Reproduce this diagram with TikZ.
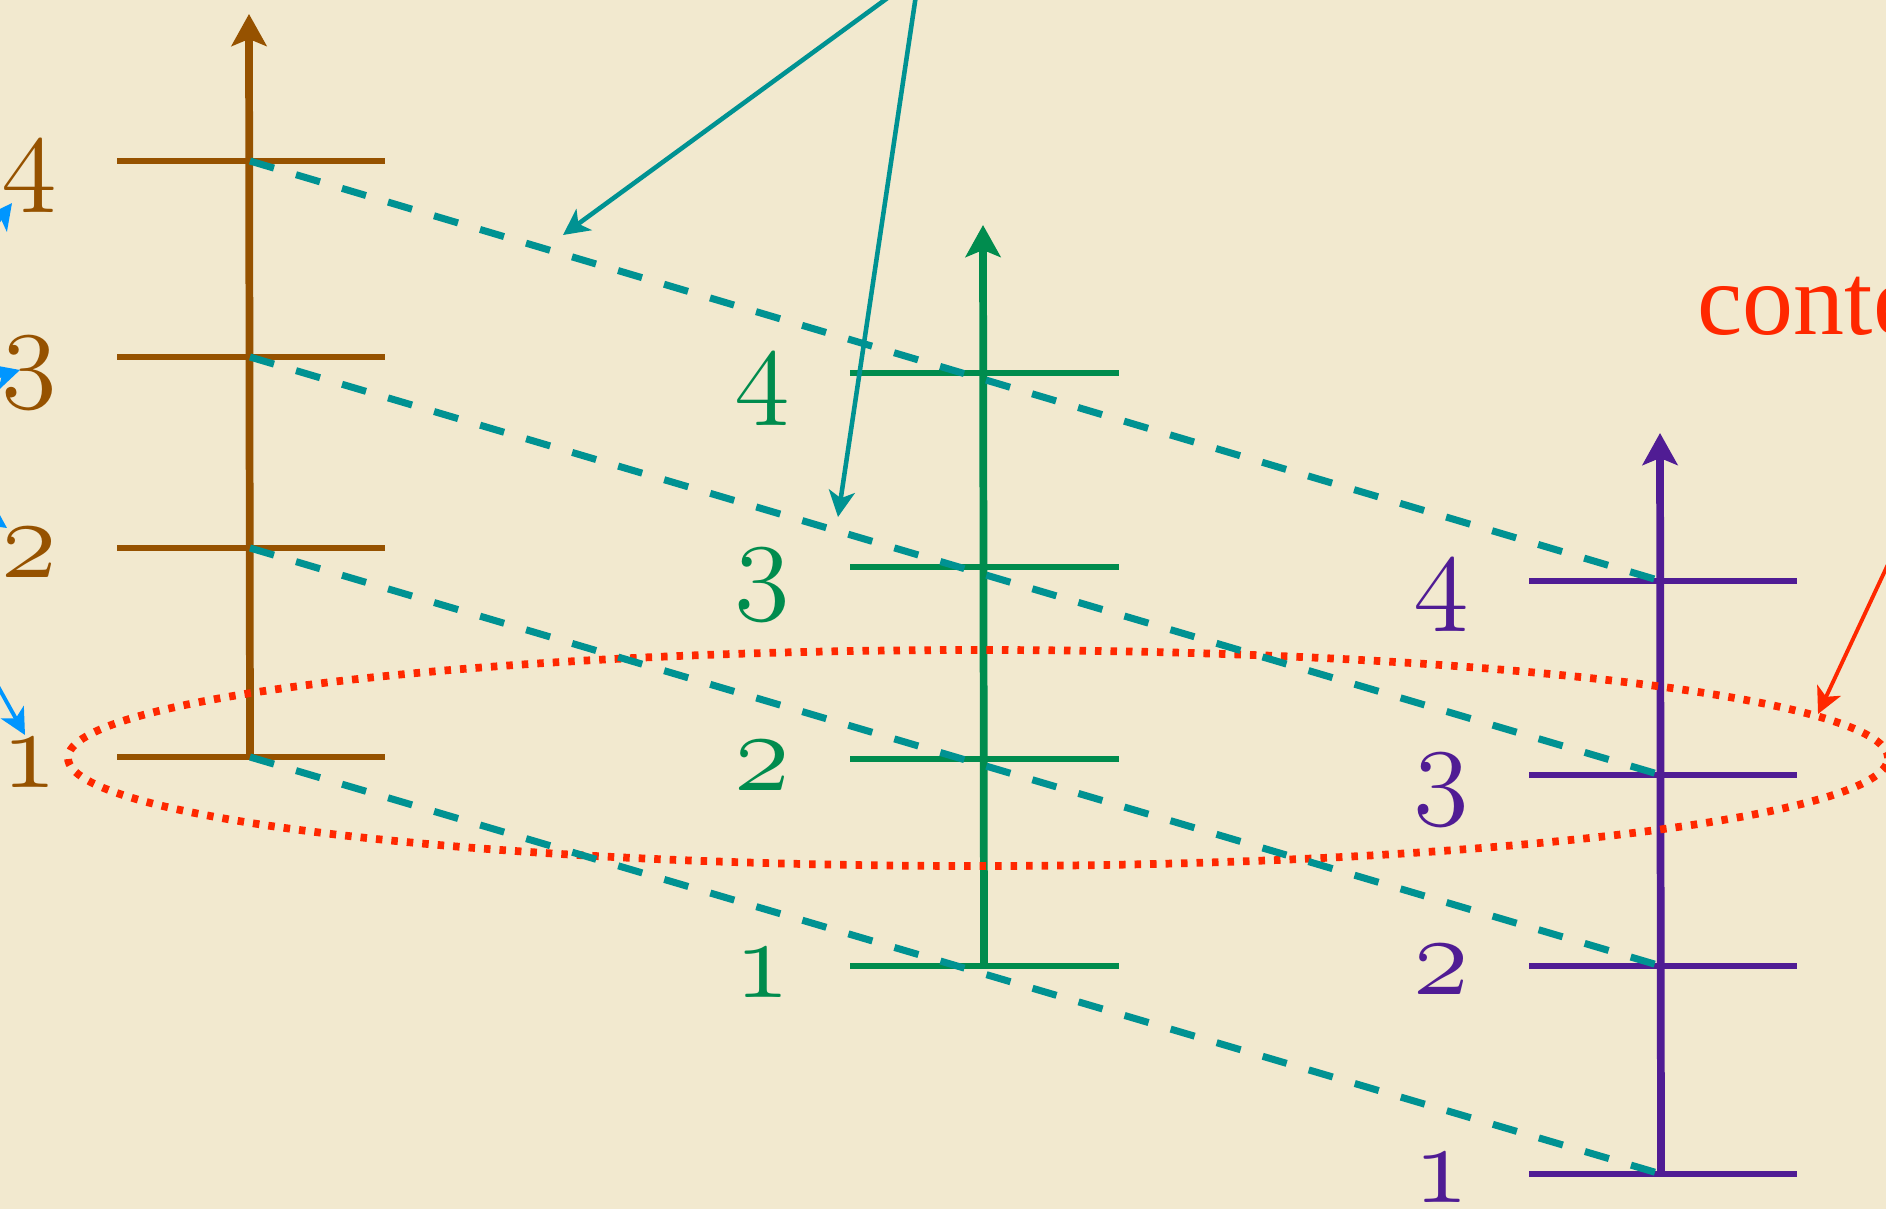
\documentclass[tikz,border=0pt]{standalone}
\usepackage{fontspec}
\newfontfamily\ctxfont{Liberation Serif}
\usetikzlibrary{arrows.meta,positioning,shapes.geometric}
\definecolor{bgcream}{RGB}{242,233,207}
\definecolor{lvlbrown}{RGB}{150,82,0}
\definecolor{lvlgreen}{RGB}{0,140,78}
\definecolor{lvlpurple}{RGB}{80,28,148}
\definecolor{linkteal}{RGB}{0,146,146}
\definecolor{ctxred}{RGB}{255,40,0}
\definecolor{ptrblue}{RGB}{0,150,255}
\newcommand{\osnum}[1]{\scalebox{1.3}{$\mathnormal{#1}$}}

\begin{document}
\begin{tikzpicture}[x=0.1mm, y=-0.1mm,
    axisline/.style={line width=2.2pt, -{Stealth[length=3.2mm, width=3.5mm, inset=0.7mm]}},
    tickline/.style={line width=1.6pt},
    lvlnum/.style={anchor=base east, inner sep=0pt, font=\fontsize{24.88}{30}\selectfont},
    link/.style={linkteal, line width=2pt, dash pattern=on 2.5mm off 2.3mm},
    ctxring/.style={draw=ctxred, line width=2.2pt, dash pattern=on 0.65mm off 0.9mm, ellipse, inner sep=0pt},
    pointer/.style={line width=1.3pt, -{Stealth[length=2.6mm, width=2.6mm, inset=0.7mm]}}]
    \useasboundingbox (0,0) rectangle (1886,1209);
    \fill[bgcream] (0,0) rectangle (1886,1209);
    \clip (0,0) rectangle (1886,1209);

    % brown ladder
    \foreach \y [count=\k] in {757,548,357,161} {
        \coordinate (b\k) at (250,\y);
        \draw[tickline, lvlbrown] (b\k) ++(-133,0) -- ++(268,0);
        \node[lvlnum, lvlbrown] (bn\k) at (58,\y+30) {\osnum{\k}};
    }
    \coordinate (btop) at (249,14);
    \draw[axisline, lvlbrown] (b1) -- (btop);

    % green ladder
    \foreach \y [count=\k] in {966,759,567,373} {
        \coordinate (g\k) at (984,\y);
        \draw[tickline, lvlgreen] (g\k) ++(-134,0) -- ++(269,0);
        \node[lvlnum, lvlgreen] (gn\k) at (791,\y+31) {\osnum{\k}};
    }
    \coordinate (gtop) at (983,225);
    \draw[axisline, lvlgreen] (g1) -- (gtop);

    % purple ladder
    \foreach \y [count=\k] in {1174,966,775,581} {
        \coordinate (p\k) at (1661,\y);
        \draw[tickline, lvlpurple] (p\k) ++(-132,0) -- ++(268,0);
        \node[lvlnum, lvlpurple] (pn\k) at (1470,\y+28) {\osnum{\k}};
    }
    \coordinate (ptop) at (1660,433);
    \draw[axisline, lvlpurple] (p1) -- (ptop);

    % context ring
    \node[ctxring, minimum width=182mm, minimum height=21.6mm] (ring) at (978,758) {};

    % level links
    \foreach \k in {1,...,4}
        \draw[link] (b\k) -- (p\k);

    % pointers
    \coordinate (lnksrc) at (919,-25);
    \coordinate (lnktip1) at (563,235);
    \coordinate (lnktip2) at (838,517);
    \draw[pointer, linkteal] (lnksrc) -- (lnktip1);
    \draw[pointer, linkteal] (lnksrc) -- (lnktip2);

    \node[anchor=base west, inner sep=0pt, text=ctxred, font=\ctxfont\fontsize{29}{34}\selectfont] (ctxlabel) at (1697,335) {conte};
    \coordinate (ctxtail) at (1940,453);
    \draw[pointer, ctxred, line width=1.1pt] (ctxtail) -- (ring.3);

    \coordinate (lvlsrc) at (-150,420);
    \foreach \x/\y in {12/203, 20/370, 7/528, 25/735}
        \draw[pointer, ptrblue, line width=1.1pt] (lvlsrc) -- (\x,\y);
\end{tikzpicture}
\end{document}
